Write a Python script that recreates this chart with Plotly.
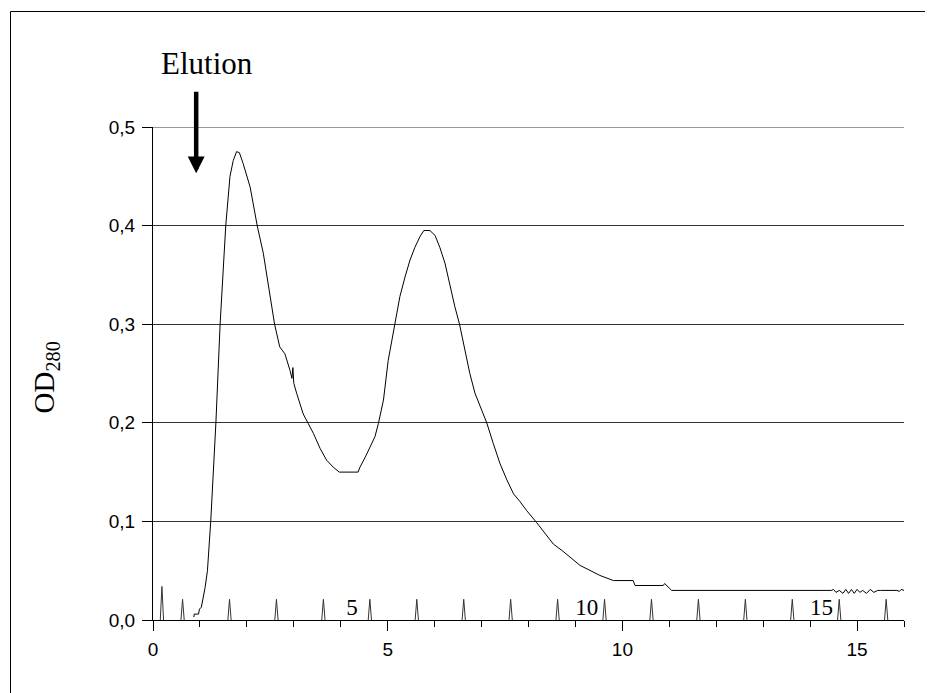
import plotly.graph_objects as go

# ---- OD280 elution profile ----
od_x = [0.87, 0.88, 0.97, 0.99, 1.03, 1.06, 1.11, 1.16, 1.23, 1.34, 1.43, 1.55, 1.64, 1.71, 1.78,
        1.84, 1.92, 2.07, 2.22, 2.35, 2.46, 2.59, 2.70, 2.81, 2.92, 2.96, 2.98, 3.00, 3.06, 3.20,
        3.31, 3.42, 3.56, 3.70, 3.84, 3.97, 4.37, 4.41, 4.52, 4.62, 4.73, 4.80, 4.91, 5.01, 5.12,
        5.26, 5.37, 5.475, 5.58, 5.69, 5.77, 5.90, 6.01, 6.11, 6.22, 6.33, 6.43, 6.53, 6.65, 6.75,
        6.86, 6.97, 7.11, 7.25, 7.39, 7.54, 7.68, 7.82, 7.96, 8.17, 8.35, 8.53, 8.71, 8.88, 9.10,
        9.31, 9.52, 9.81, 10.23, 10.27, 10.87, 10.90, 10.94, 11.01, 11.05, 14.45, 14.50, 14.55,
        14.62, 14.70, 14.76, 14.82, 14.88, 14.94, 15.00, 15.06, 15.12, 15.20, 15.28, 15.36, 15.44,
        15.50, 15.85, 15.90, 15.94, 16.0]
od_y = [0.003, 0.006, 0.006, 0.011, 0.013, 0.020, 0.033, 0.050, 0.100, 0.200, 0.300, 0.400, 0.450,
        0.466, 0.475, 0.474, 0.463, 0.439, 0.400, 0.372, 0.338, 0.300, 0.277, 0.270, 0.253, 0.245,
        0.256, 0.240, 0.230, 0.209, 0.199, 0.189, 0.174, 0.162, 0.155, 0.150, 0.150, 0.155, 0.165,
        0.175, 0.186, 0.199, 0.223, 0.263, 0.290, 0.328, 0.348, 0.365, 0.378, 0.389, 0.395, 0.395,
        0.390, 0.378, 0.362, 0.338, 0.318, 0.300, 0.274, 0.250, 0.230, 0.216, 0.200, 0.179, 0.159,
        0.142, 0.128, 0.120, 0.111, 0.099, 0.0875, 0.077, 0.0706, 0.0638, 0.0553, 0.0503, 0.0452,
        0.040, 0.040, 0.035, 0.035, 0.037, 0.035, 0.031, 0.030, 0.030, 0.031, 0.028, 0.030, 0.027,
        0.031, 0.027, 0.031, 0.027, 0.031, 0.028, 0.030, 0.027, 0.031, 0.028, 0.030, 0.030, 0.030,
        0.029, 0.031, 0.030]

# ---- fraction collector marks ----
mark_x = [0.19, 0.63, 1.63, 2.63, 3.63, 4.62, 5.62, 6.62, 7.62, 8.62, 9.62, 10.62, 11.62, 12.62,
          13.62, 14.62, 15.62]
mark_h = [0.034, 0.021, 0.021, 0.021, 0.021, 0.021, 0.021, 0.021, 0.021, 0.021, 0.021, 0.021,
          0.021, 0.021, 0.021, 0.021, 0.021]
frac_label_x = [4.24, 9.24, 14.24]
frac_label_y = [0.0105, 0.0105, 0.0105]
frac_labels = ["5", "10", "15"]

SANS = "Liberation Sans, Arial, sans-serif"
SERIF = "Liberation Serif, Times New Roman, serif"

# page offset: the page body adds 8 px around the figure
OFF = 8
PL, PT, PW, PH = 153, 127, 751, 493          # plot area as seen on screen


def px_x(sx):
    return (sx - PL) / PW


def px_y(sy):
    return (PT + PH - sy) / PH


# build spike polyline from the marks
half_w = 0.035
spk_x, spk_y = [], []
for p, h in zip(mark_x, mark_h):
    spk_x += [p - half_w, p, p + half_w, None]
    spk_y += [0, h, 0, None]

fig = go.Figure()
fig.add_trace(go.Scatter(x=spk_x, y=spk_y, mode="lines", line=dict(color="#333333", width=1),
                         hoverinfo="skip", cliponaxis=False))
fig.add_trace(go.Scatter(x=od_x, y=od_y, mode="lines", line=dict(color="black", width=1),
                         hoverinfo="skip"))
fig.add_trace(go.Scatter(x=frac_label_x, y=frac_label_y, mode="text", text=frac_labels,
                         textposition="middle center",
                         textfont=dict(family=SERIF, size=23, color="black"),
                         hoverinfo="skip", cliponaxis=False))

fig.update_layout(
    width=933, height=693,
    margin=dict(l=PL - OFF, r=933 - (PL - OFF) - PW, t=PT - OFF, b=693 - (PT - OFF) - PH),
    plot_bgcolor="white", paper_bgcolor="white",
    showlegend=False,
    separators=", ",
)
fig.update_xaxes(
    range=[0, 16], tick0=0, dtick=5,
    ticks="outside", ticklen=10, tickwidth=1, tickcolor="black",
    showline=True, linecolor="black", linewidth=1,
    showgrid=False, zeroline=False,
    minor=dict(dtick=1, tick0=0, ticks="outside", ticklen=6, tickcolor="black", tickwidth=1,
               showgrid=False),
    tickfont=dict(family=SANS, size=19, color="black"),
    ticklabelstandoff=2,
)
fig.update_yaxes(
    range=[0, 0.5], tick0=0, dtick=0.1, tickformat=".1f",
    ticks="outside", ticklen=10, tickwidth=1, tickcolor="black",
    showline=True, linecolor="black", linewidth=1,
    showgrid=True, gridcolor="#333333", gridwidth=1, zeroline=False,
    tickfont=dict(family=SANS, size=19, color="black"),
    ticklabelstandoff=3,
)

# top gridline at 0.5 (plotly drops gridlines at the range edge)
fig.add_shape(type="line", xref="paper", yref="y", x0=0, x1=1, y0=0.5, y1=0.5,
              line=dict(color="#333333", width=1), layer="below")

# y title
fig.add_annotation(text="OD<sub>280</sub>", textangle=-90, xref="paper", yref="paper",
                   x=px_x(45.5), y=px_y(378), xanchor="center", yanchor="middle",
                   showarrow=False, font=dict(family=SERIF, size=29, color="black"))
# Elution label and arrow
fig.add_annotation(text="Elution", xref="paper", yref="paper", x=px_x(206.7), y=px_y(63),
                   showarrow=False, xanchor="center", yanchor="middle",
                   font=dict(family=SERIF, size=31, color="black"))
fig.add_annotation(text="", x=0.92, y=0.453, xref="x", yref="y", ax=0, ay=-83,
                   showarrow=True, arrowhead=2, arrowwidth=4.5, arrowsize=0.75,
                   arrowcolor="black", standoff=0)

# partial outer frame (left and top edges visible)
fig.add_shape(type="line", xref="paper", yref="paper",
              x0=px_x(10.5), x1=px_x(10.5), y0=px_y(11.5), y1=px_y(710),
              line=dict(color="black", width=1))
fig.add_shape(type="line", xref="paper", yref="paper",
              x0=px_x(10.5), x1=px_x(950), y0=px_y(11.5), y1=px_y(11.5),
              line=dict(color="black", width=1))

fig.write_html("out.html")
